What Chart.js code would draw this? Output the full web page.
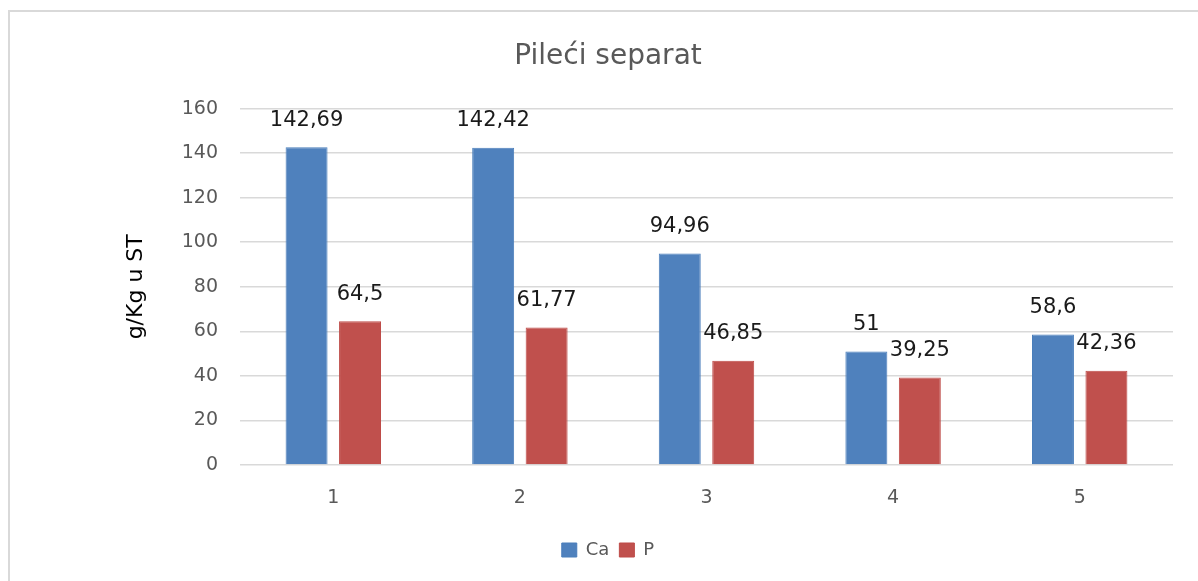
<!DOCTYPE html>
<html>
<head>
<meta charset="utf-8">
<script src="https://cdn.jsdelivr.net/npm/chart.js@4/dist/chart.umd.min.js"></script>
<style>
    html, body { margin: 0; padding: 0; background: #fff; overflow: hidden; }
    #wrap { position: relative; width: 1198px; height: 581px; }
    #frame {
        position: absolute; left: 8px; top: 10px;
        width: 1400px; height: 800px;
        border: 2px solid #d9d9d9;
    }
    canvas { position: absolute; left: 0; top: 0; }
</style>
</head>
<body>
<div id="wrap">
    <div id="frame"></div>
    <canvas id="chart" width="1198" height="581"></canvas>
</div>
<script>
// Data
const categories = ['1', '2', '3', '4', '5'];
const caValues = [142.69, 142.42, 94.96, 51, 58.6];
const pValues = [64.5, 61.77, 46.85, 39.25, 42.36];
const yMin = 0;
const yMax = 160;
const yStep = 20;

const FONT = "'DejaVu Sans', sans-serif";

// draws the value above each bar, decimal comma like the original
const valueLabels = {
    id: 'valueLabels',
    afterDatasetsDraw(chart) {
        const ctx = chart.ctx;
        ctx.save();
        ctx.font = '21px ' + FONT;
        ctx.fillStyle = '#1a1a1a';
        ctx.textAlign = 'center';
        ctx.textBaseline = 'middle';
        chart.data.datasets.forEach((ds, i) => {
            chart.getDatasetMeta(i).data.forEach((bar, j) => {
                const txt = String(ds.data[j]).replace('.', ',');
                ctx.fillText(txt, bar.x, bar.y - 27);
            });
        });
        ctx.restore();
    }
};

const ctx = document.getElementById('chart').getContext('2d');
new Chart(ctx, {
    type: 'bar',
    data: {
        labels: categories,
        datasets: [{
            label: 'Ca',
            data: caValues,
            backgroundColor: '#4f81bd',
            borderColor: '#4a7ebb',
            borderWidth: 1
        }, {
            label: 'P',
            data: pValues,
            backgroundColor: '#c0504d',
            borderColor: '#be4b48',
            borderWidth: 1
        }]
    },
    options: {
        responsive: false,
        animation: false,
        events: [],
        categoryPercentage: 0.573,
        barPercentage: 0.785,
        layout: {
            padding: { left: 43, right: 25, top: 0, bottom: 12 }
        },
        scales: {
            y: {
                min: yMin,
                max: yMax,
                ticks: {
                    stepSize: yStep,
                    padding: 22,
                    color: '#595959',
                    font: { family: FONT, size: 19 }
                },
                grid: {
                    color: '#d9d9d9',
                    lineWidth: 1.5,
                    drawTicks: false
                },
                border: { display: false },
                title: {
                    display: true,
                    text: 'g/Kg u ST',
                    color: '#000',
                    font: { family: FONT, size: 22 },
                    padding: { top: 80, bottom: 0 }
                },
                afterFit(scale) { scale.width = 197; }
            },
            x: {
                ticks: {
                    padding: 22,
                    color: '#595959',
                    font: { family: FONT, size: 19 }
                },
                grid: { display: false, drawTicks: false },
                border: { display: false },
                afterFit(scale) { scale.height = 66; }
            }
        },
        plugins: {
            title: {
                display: true,
                text: 'Pileći separat',
                color: '#595959',
                font: { family: FONT, size: 28, weight: 'normal' },
                padding: { top: 40, bottom: 35 }
            },
            legend: {
                position: 'bottom',
                labels: {
                    boxWidth: 15,
                    boxHeight: 14,
                    padding: 10,
                    color: '#595959',
                    font: { family: FONT, size: 18 }
                }
            },
            tooltip: { enabled: false }
        }
    },
    plugins: [valueLabels]
});
</script>
</body>
</html>
